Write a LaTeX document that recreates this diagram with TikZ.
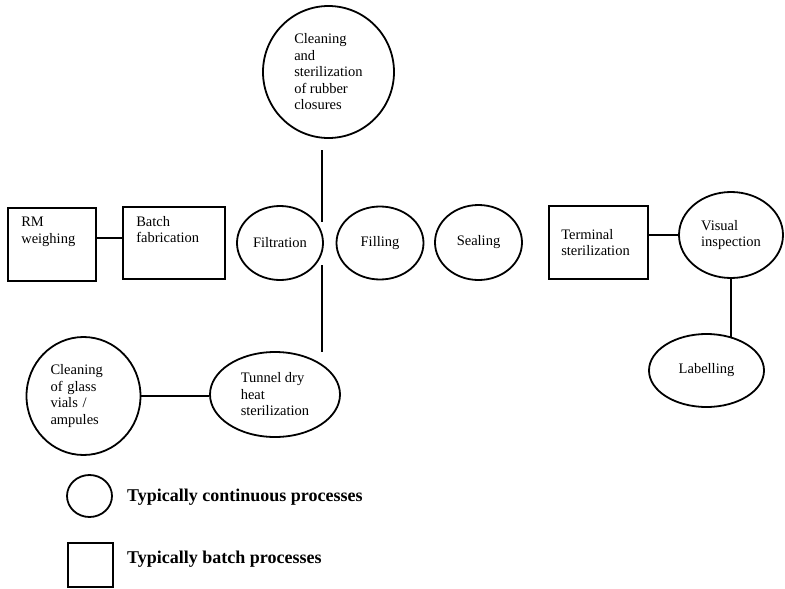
\documentclass[tikz,border=0pt]{standalone}
\usepackage{fontspec}
\setmainfont{Liberation Serif}
\usetikzlibrary{shapes.geometric}
\begin{document}
\begin{tikzpicture}[x=1pt,y=-1pt,
  every node/.style={font=\fontsize{14.5}{16.5}\selectfont},
  proc/.style={draw, line width=1.8pt, ellipse, inner sep=0pt, align=left},
  batchbox/.style={draw, line width=1.8pt, rectangle, inner sep=0pt},
  boxtext/.style={anchor=north west, inner sep=0pt, align=left},
  link/.style={line width=1.8pt},
  legendtext/.style={anchor=west, inner sep=0pt, font=\fontsize{18}{20}\selectfont\bfseries}]
\useasboundingbox (0,0) rectangle (785,589);

% batch steps (rectangles)
\node[batchbox, minimum width=88pt, minimum height=73pt,
      label={[boxtext, xshift=14pt, yshift=-10pt]north west:RM\\weighing}] (rm) at (52,244.5) {};
\node[batchbox, minimum width=102pt, minimum height=72pt,
      label={[boxtext, xshift=14pt, yshift=-10pt]north west:Batch\\fabrication}] (batch) at (174,243) {};
\node[batchbox, minimum width=99pt, minimum height=73pt,
      label={[boxtext, anchor=west, xshift=13pt]west:Terminal\\sterilization}] (terminal) at (598.5,242.5) {};

% continuous steps (ellipses)
\node[proc, minimum width=86pt, minimum height=74pt] (filtration) at (280,243) {Filtration};
\node[proc, minimum width=87pt, minimum height=73pt] (filling) at (380,243) {Filling};
\node[proc, minimum width=87pt, minimum height=75pt] (sealing) at (478.5,242.5) {Sealing};
\node[proc, minimum width=104pt, minimum height=86pt] (visual) at (731,235) {Visual\\inspection};
\node[proc, minimum width=115pt, minimum height=73pt] (labelling) at (706.5,370.5) {Labelling};
\node[proc, minimum width=131pt, minimum height=132pt] (rubber) at (328.5,72)
  {Cleaning\\and\\sterilization\\of rubber\\closures};
\node[proc, minimum width=114pt, minimum height=118pt, text width=66pt] (glass) at (83.5,396)
  {Cleaning\\of glass\\vials /\\ampules};
\node[proc, minimum width=130pt, minimum height=85pt] (tunnel) at (275,394.5)
  {Tunnel dry\\heat\\sterilization};

% connectors
\draw[link] ([yshift=6.5pt]rm.east) -- ([yshift=6.5pt]rm.east -| batch.west);
\draw[link] (terminal.east |- visual.west) -- (visual.west);
\draw[link] (visual.south) -- (visual.south |- labelling.50);
\draw[link] (glass.east) -- (glass.east -| tunnel.west);

% feed lines joining the filling line between filtration and filling
\coordinate (feedtopA) at (322,150);
\coordinate (feedtopB) at (322,222);
\coordinate (feedlowA) at (322,265);
\coordinate (feedlowB) at (322,352);
\draw[link] (feedtopA) -- (feedtopB);
\draw[link] (feedlowA) -- (feedlowB);

% legend
\node[draw, line width=1.8pt, ellipse, minimum width=45pt, minimum height=42pt, inner sep=0pt] (legcont) at (89.5,496) {};
\node[legendtext] (legconttext) at (127,497) {Typically continuous processes};
\node[draw, line width=1.8pt, rectangle, minimum width=45pt, minimum height=44pt, inner sep=0pt] (legbatch) at (90.5,565) {};
\node[legendtext] (legbatchtext) at (127,559) {Typically batch processes};
\end{tikzpicture}
\end{document}
